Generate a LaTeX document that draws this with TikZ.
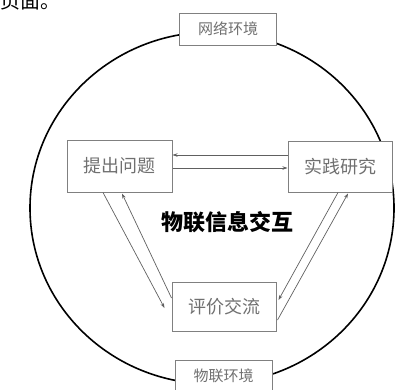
\documentclass[tikz,border=0pt]{standalone}
\usepackage{fontspec}
\newfontfamily\cjk{Noto Sans CJK SC}
\usetikzlibrary{arrows.meta}
\definecolor{boxline}{HTML}{808080}
\definecolor{boxtext}{HTML}{707070}
\definecolor{arrline}{HTML}{606060}
\tikzset{
  stagebox/.style={draw=boxline, line width=1pt, fill=white, inner sep=0pt,
    minimum width=104pt, minimum height=51pt, text=boxtext,
    font=\cjk\fontsize{18}{20}\selectfont},
  envbox/.style={draw=boxline, line width=1pt, fill=white, inner sep=0pt,
    minimum width=97pt, minimum height=32pt, text=boxtext,
    font=\cjk\fontsize{15}{17}\selectfont},
  link/.style={draw=arrline, line width=0.7pt, -{Stealth[length=5pt,width=3.5pt]}}
}
\begin{document}
\begin{tikzpicture}[x=1pt,y=-1pt]
\useasboundingbox (0,0) rectangle (395,389);
\begin{scope}
\clip (0,0) rectangle (395,389);
\node[anchor=south west, inner sep=0pt, font=\cjk\fontsize{20}{22}\selectfont] (frag) at (0,10) {页面。};
\draw[line width=1.6pt] (212,208) ellipse [x radius=182, y radius=176];
\node[envbox] (wangluo) at (228,29) {网络环境};
\node[envbox] (wulian) at (223.5,376) {物联环境};
\end{scope}
\node[stagebox, minimum width=105pt, minimum height=52pt] (tiwen) at (119.5,166) {提出问题};
\node[stagebox] (shijian) at (340,166.5) {实践研究};
\node[stagebox, minimum height=49pt] (pingjia) at (224,306.5) {评价交流};
\node[font=\cjk\bfseries\fontsize{22}{24}\selectfont] (center) at (227,222) {物联信息交互};
% horizontal pair
\draw[link] ([yshift=11.5pt]shijian.west) -- ([yshift=11pt]tiwen.east);
\draw[link] ([yshift=-2pt]tiwen.east) -- ([yshift=-1.5pt]shijian.west);
% left pair
\draw[link] ([xshift=-16.5pt]tiwen.south) -- ([xshift=-7pt,yshift=-1.5pt]pingjia.west);
\draw[link] ([yshift=8.5pt]pingjia.west) -- ([xshift=2.5pt,yshift=-1pt]tiwen.south);
% right pair
\draw[link] ([xshift=-2pt]shijian.south) -- ([xshift=2pt,yshift=6.5pt]pingjia.east);
\draw[link] ([xshift=1pt,yshift=-13.5pt]pingjia.east) -- ([xshift=8pt,yshift=-1pt]shijian.south);
\end{tikzpicture}
\end{document}
